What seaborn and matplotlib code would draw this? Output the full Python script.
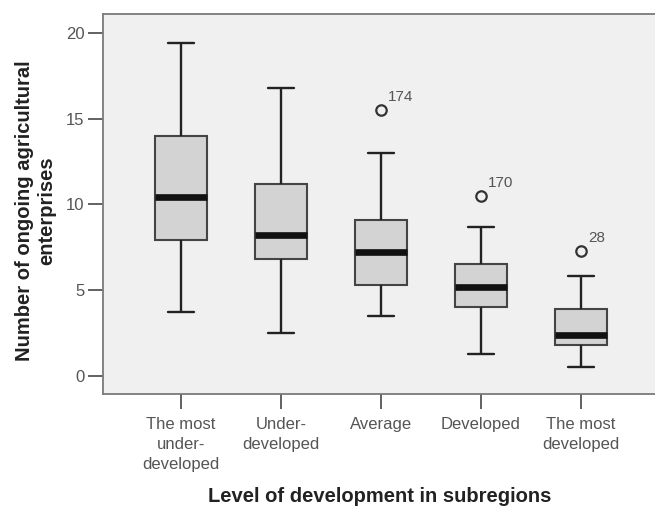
import pandas as pd
import numpy as np
import seaborn as sns
import matplotlib.pyplot as plt

# --- data (five-number summary per group) ---
categories = ["The most\nunder-\ndeveloped", "Under-\ndeveloped", "Average",
              "Developed", "The most\ndeveloped"]
whisker_low = [3.7, 2.5, 3.5, 1.3, 0.5]
q1 = [7.9, 6.8, 5.3, 4.0, 1.8]
median = [10.4, 8.2, 7.2, 5.2, 2.4]
q3 = [14.0, 11.2, 9.1, 6.5, 3.9]
whisker_high = [19.4, 16.8, 13.0, 8.7, 5.8]

outlier_cat = ["Average", "Developed", "The most\ndeveloped"]
outlier_val = [15.5, 10.5, 7.3]
outlier_id = ["174", "170", "28"]

# long table: the 5 summary values per group give exactly these quartiles
rows = []
for i, cat in enumerate(categories):
    for v in (whisker_low[i], q1[i], median[i], q3[i], whisker_high[i]):
        rows.append({"level": cat, "value": v})
df = pd.DataFrame(rows)
out_df = pd.DataFrame({"level": outlier_cat, "value": outlier_val})

sns.set_theme(style="white")
plt.rcParams['font.family'] = ['Liberation Sans', 'DejaVu Sans']

fig = plt.figure(figsize=(6.55, 5.08), dpi=100)
ax = fig.add_axes([103.3 / 655, 1 - 394.3 / 508, (657 - 103.3) / 655, (394.3 - 14) / 508])
ax.set_facecolor('#f0f0f0')

sns.boxplot(data=df, x='level', y='value', order=categories, whis=(0, 100),
            width=0.52, color='#d3d3d3', linecolor='#3a3a3a', linewidth=1.5,
            medianprops=dict(color='#111111', linewidth=4.8, solid_capstyle='butt'),
            whiskerprops=dict(color='#222222', linewidth=1.7),
            capprops=dict(color='#222222', linewidth=1.7),
            boxprops=dict(edgecolor='#444444', linewidth=1.5),
            showfliers=False, ax=ax)

# outliers drawn as open circles on the same categorical axis
sns.stripplot(data=out_df, x='level', y='value', order=categories, jitter=False,
              color='#f0f0f0', edgecolor='#333333', linewidth=1.6, size=7.5,
              ax=ax, zorder=5)

for cat, val, lab in zip(outlier_cat, outlier_val, outlier_id):
    ax.annotate(lab, xy=(categories.index(cat), val), xytext=(5, 6.5),
                textcoords='offset points', ha='left', va='baseline',
                fontsize=11, color='#555555')

ax.set_xlim(-0.774, 4.76)
ax.set_ylim(-1.07, 21.09)
ax.set_yticks([0, 5, 10, 15, 20])

for side, sp in ax.spines.items():
    sp.set_color('#7a7a7a')
    sp.set_linewidth(1.3)
    sp.set_visible(True)

ax.tick_params(axis='both', direction='out', length=10.5, width=1.3,
               color='#555555', labelsize=12, labelcolor='#555555',
               left=True, bottom=True, pad=3)
ax.tick_params(axis='x', pad=6)
ax.set_xticks(range(len(categories)))
ax.set_xticklabels(categories, linespacing=1.4)

ax.set_xlabel('Level of development in subregions', fontsize=14.5,
              fontweight='bold', color='#222222')
ax.xaxis.set_label_coords(0.5, -0.27)
ax.xaxis.label.set_va('center')
ax.set_ylabel('Number of ongoing agricultural\nenterprises', fontsize=14.5,
              fontweight='bold', color='#222222', linespacing=1.2)
ax.yaxis.set_label_coords(-0.122, 0.482)
ax.yaxis.label.set_va('center')
ax.yaxis.label.set_ha('center')

fig.savefig('out.png', dpi=100)
